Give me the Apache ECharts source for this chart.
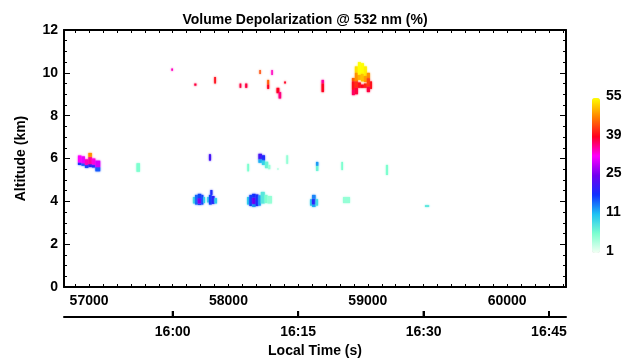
<!DOCTYPE html>
<html>
<head>
<meta charset="utf-8">
<script src="https://cdn.jsdelivr.net/npm/echarts@6/dist/echarts.min.js"></script>
<style>html,body{margin:0;padding:0;background:#fff}#c{width:635px;height:363px}</style>
</head>
<body>
<div id="c"></div>
<script>
// ---- data: rectangles [tStart(s), tEnd(s), zBottom(km), zTop(km), depol(%)] ----
const lowCloudCells = [
  [57745,57760,3.90,4.20,9],[57760,57780,3.85,4.30,15],
  [57780,57805,3.83,3.90,16],[57780,57805,3.90,4.15,26],[57780,57805,4.15,4.35,17],
  [57805,57820,3.85,4.30,17],[57820,57832,3.92,4.20,10],
  [57846,57860,3.95,4.20,9],[57860,57880,3.85,4.30,17],[57870,57885,4.30,4.53,19],
  [57880,57900,3.88,4.25,20],[57900,57918,3.90,4.15,10],
  [58133,58150,3.85,4.20,10],[58150,58170,3.78,4.30,17],
  [58170,58195,3.74,3.88,13],[58170,58195,3.88,4.18,25],[58170,58195,4.18,4.35,18],
  [58195,58215,3.78,4.32,19],[58215,58232,3.80,4.28,13],
  [58232,58260,3.90,4.44,8],[58260,58280,3.92,4.30,6],[58280,58312,3.90,4.25,5],
  [58585,58600,3.80,4.10,10],[58600,58625,3.74,3.86,12],[58600,58625,3.86,4.12,20],
  [58600,58625,4.12,4.30,14],[58625,58643,3.80,4.10,9],
  [58822,58872,3.92,4.20,5],
  [59410,59440,3.74,3.82,8]
];
const midCloudCells = [
  [56920,56945,5.70,5.82,18],[56920,56945,5.82,6.14,32],
  [56945,56970,5.66,5.78,16],[56945,56970,5.78,6.10,31],
  [56970,56995,5.56,5.70,17],[56970,56995,5.70,5.96,34],
  [56995,57020,5.60,5.74,20],[56995,57020,5.74,6.08,35],[56995,57020,6.08,6.26,48],
  [57020,57045,5.58,5.72,19],[57020,57045,5.72,6.00,33],
  [57045,57080,5.40,5.60,16],[57045,57080,5.60,5.90,30],
  [57340,57365,5.38,5.78,6],
  [57860,57875,5.90,6.20,22],
  [58135,58148,5.40,5.75,6],
  [58215,58240,5.95,6.22,22],[58240,58262,5.90,6.15,19],
  [58215,58240,5.80,5.95,12],[58240,58262,5.70,5.90,10],
  [58262,58285,5.55,5.85,7],[58285,58300,5.50,5.70,5],
  [58350,58360,5.48,5.55,4],
  [58415,58428,5.75,6.15,5],
  [58628,58645,5.65,5.84,13],[58628,58645,5.42,5.65,7],
  [58810,58822,5.46,5.84,6],
  [59130,59145,5.23,5.70,6]
];
const cirrusCells = [
  [57590,57602,10.10,10.20,34],
  [57755,57770,9.40,9.50,38],
  [57898,57910,9.50,9.80,40],
  [58080,58092,9.30,9.50,38],[58120,58135,9.30,9.50,38],
  [58222,58232,9.95,10.13,44],
  [58308,58318,9.90,10.13,34],
  [58278,58292,9.45,9.67,45],[58278,58292,9.25,9.45,39],
  [58345,58365,9.05,9.30,39],[58360,58378,8.80,9.10,36],
  [58400,58412,9.50,9.60,39],
  [58668,58685,9.50,9.67,35],[58668,58685,9.10,9.50,39],
  [58886,58907,9.60,9.76,45],[58886,58907,9.20,9.60,40],[58886,58907,8.96,9.20,37],
  [58907,58929,10.00,10.30,53],[58907,58929,9.60,10.00,48],[58907,58929,9.30,9.60,42],[58907,58929,9.00,9.30,38],
  [58929,58950,9.90,10.50,55],[58929,58950,9.67,9.90,50],[58929,58950,9.30,9.55,40],
  [58950,58972,9.95,10.45,55],[58950,58972,9.60,9.95,51],[58950,58972,9.30,9.45,39],
  [58972,58993,9.85,10.30,54],[58972,58993,9.57,9.85,49],[58972,58993,9.30,9.50,41],
  [58993,59015,9.75,10.00,48],[58993,59015,9.35,9.75,43],[58993,59015,9.10,9.35,38],
  [59015,59030,9.25,9.60,40]
];
// ---- axes / ticks ----
const timeMin = 56820, timeMax = 60422;
const secondLabels = [57000, 58000, 59000, 60000];
const localTimeTicks = [57600, 58500, 59400, 60300];
const altitudeMin = 0, altitudeMax = 12, altitudeStep = 2;
const colorbarTicks = [1, 11, 25, 39, 55];
const frameTickStep = 100;

const frameTicks = [];
for (let t = Math.ceil(timeMin / frameTickStep) * frameTickStep; t <= timeMax; t += frameTickStep) frameTicks.push(t);

// colour-bar position (ticks are evenly spaced on the bar)
function barPos(v) {
  for (let i = 0; i < colorbarTicks.length - 1; i++) {
    const a = colorbarTicks[i], b = colorbarTicks[i + 1];
    if (v <= b || i === colorbarTicks.length - 2) return i + (v - a) / (b - a);
  }
}
const cells = lowCloudCells.concat(midCloudCells, cirrusCells).map(c => [c[0], c[1], c[2], c[3], barPos(c[4])]);

const FONT = '"Liberation Sans", Arial, sans-serif';
function lbl(extra) {
  return Object.assign({color: '#000', fontWeight: 'bold', fontSize: 14, fontFamily: FONT}, extra || {});
}
function frameLine() { return {show: true, onZero: false, lineStyle: {color: '#000', width: 2}}; }
function hhmm(v) {
  const h = Math.floor(v / 3600), m = Math.round((v - h * 3600) / 60);
  return h + ':' + (m < 10 ? '0' : '') + m;
}

const chart = echarts.init(document.getElementById('c'), null, {renderer: 'canvas'});
const barTop = 98, barH = 155, barLeft = 592;
const cbLabels = colorbarTicks.map((v, i) => ({
  type: 'text', left: 606,
  top: barTop + (1 - i / (colorbarTicks.length - 1)) * barH - 9,
  style: {text: String(v), fill: '#000', font: 'bold 14px ' + FONT}
}));

chart.setOption({
  animation: false,
  backgroundColor: '#fff',
  title: {
    text: 'Volume Depolarization @ 532 nm (%)', left: 300, top: 8, textAlign: 'center',
    textStyle: lbl()
  },
  grid: [
    {left: 64, top: 30, width: 502, height: 257},
    {left: 64, top: 287, width: 502, height: 30}
  ],
  xAxis: [
    {
      type: 'value', gridIndex: 0, position: 'bottom', min: timeMin, max: timeMax,
      axisLine: frameLine(),
      axisTick: {show: true, inside: true, length: 3, customValues: frameTicks, lineStyle: {color: '#000'}},
      axisLabel: lbl({customValues: secondLabels, margin: 7, formatter: v => String(v)}),
      splitLine: {show: false}
    },
    {
      type: 'value', gridIndex: 0, position: 'top', min: timeMin, max: timeMax,
      axisLine: frameLine(),
      axisTick: {show: true, inside: true, length: 3, customValues: frameTicks, lineStyle: {color: '#000'}},
      axisLabel: {show: false}, splitLine: {show: false}
    },
    {
      type: 'value', gridIndex: 1, position: 'bottom', min: timeMin, max: timeMax,
      name: 'Local Time (s)', nameLocation: 'middle', nameGap: 27,
      nameTextStyle: lbl(),
      axisLine: frameLine(),
      axisTick: {show: true, inside: true, length: 6, customValues: localTimeTicks, lineStyle: {color: '#000', width: 2}},
      axisLabel: lbl({customValues: localTimeTicks, margin: 8, formatter: hhmm}),
      splitLine: {show: false}
    }
  ],
  yAxis: [
    {
      type: 'value', gridIndex: 0, position: 'left', min: altitudeMin, max: altitudeMax, interval: altitudeStep,
      name: 'Altitude (km)', nameLocation: 'middle', nameGap: 36, nameTextStyle: lbl(),
      axisLine: frameLine(),
      axisTick: {show: true, inside: true, length: 6, lineStyle: {color: '#000'}},
      minorTick: {show: true, splitNumber: 4, length: 3, lineStyle: {color: '#000'}},
      axisLabel: lbl({margin: 6}),
      splitLine: {show: false}
    },
    {
      type: 'value', gridIndex: 0, position: 'right', min: altitudeMin, max: altitudeMax, interval: altitudeStep,
      axisLine: frameLine(),
      axisTick: {show: true, inside: true, length: 6, lineStyle: {color: '#000'}},
      minorTick: {show: true, splitNumber: 4, length: 3, lineStyle: {color: '#000'}},
      axisLabel: {show: false}, splitLine: {show: false}
    },
    {
      type: 'value', gridIndex: 1, min: 0, max: 1, show: false
    }
  ],
  visualMap: {
    type: 'continuous', min: 0, max: colorbarTicks.length - 1, dimension: 4, seriesIndex: 0,
    left: barLeft, top: barTop, itemWidth: 8, itemHeight: barH, padding: 0,
    calculable: false, realtime: false, text: null, showLabel: false,
    inRange: {color: ['#f4fff4', '#7dffcf', '#1ec3f3', '#1030ff', '#7000f0', '#ff00ff', '#ff0020', '#ff8000', '#ffff00']}
  },
  graphic: cbLabels,
  series: [
    {
      type: 'custom', xAxisIndex: 0, yAxisIndex: 0, clip: true,
      encode: {x: [0, 1], y: [2, 3]},
      data: cells,
      renderItem: function (params, api) {
        const p0 = api.coord([api.value(0), api.value(3)]);
        const p1 = api.coord([api.value(1), api.value(2)]);
        const c = api.visual('color');
        return {
          type: 'rect',
          shape: {x: p0[0], y: p0[1], width: p1[0] - p0[0], height: p1[1] - p0[1]},
          style: {fill: c, shadowBlur: 2, shadowColor: c}
        };
      }
    },
    {
      // local-time tick marks on the lower time axis, placed through that axis's scale
      type: 'custom', xAxisIndex: 2, yAxisIndex: 2, clip: false, silent: true,
      encode: {x: 0},
      data: localTimeTicks.map(t => [t]),
      renderItem: function (params, api) {
        const p = api.coord([api.value(0), 0]);
        return {
          type: 'line',
          shape: {x1: p[0], y1: p[1], x2: p[0], y2: p[1] - 6},
          style: {stroke: '#000', lineWidth: 2}
        };
      }
    }
  ]
});
</script>
</body>
</html>
